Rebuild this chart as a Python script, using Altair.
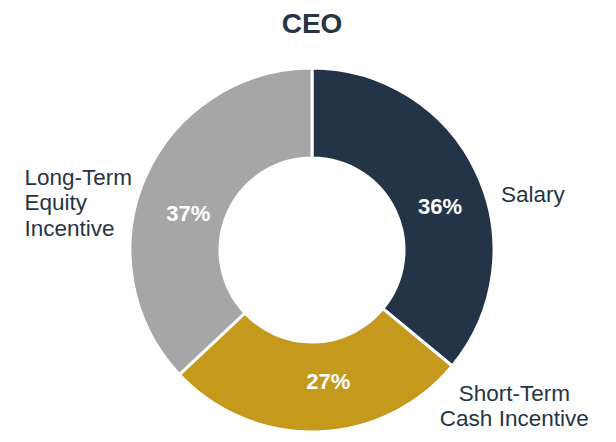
import altair as alt
import pandas as pd

categories = ["Salary", "Short-Term Cash Incentive", "Long-Term Equity Incentive"]
values = [36, 27, 37]
pct_labels = ["36%", "27%", "37%"]
outer_labels = ["Salary", "Short-Term\nCash Incentive", "Long-Term\nEquity\nIncentive"]
colors = ["#243447", "#C4991C", "#A6A6A6"]

df = pd.DataFrame({
    "category": categories,
    "value": values,
    "order": [0, 1, 2],
    "pct": pct_labels,
    "label": outer_labels,
})

FONT = "Liberation Sans"
TEXT_COLOR = "#253546"

base = alt.Chart(df).encode(
    theta=alt.Theta("value:Q", stack=True),
    order=alt.Order("order:Q", sort="ascending"),
)

arc = base.mark_arc(radius=182, innerRadius=92, stroke="white", strokeWidth=3).encode(
    color=alt.Color("category:N", scale=alt.Scale(domain=categories, range=colors), legend=None)
)


def label_layer(cat, field, radius, dx, dy, **kw):
    return base.transform_calculate(
        t=f"datum.category == '{cat}' ? datum.{field} : ''"
    ).mark_text(radius=radius, dx=dx, dy=dy, font=FONT, lineBreak="\n", **kw).encode(
        text="t:N"
    )


pct_kw = dict(fontSize=22, fontWeight="bold", color="white", align="center", baseline="middle")
out_kw = dict(fontSize=22.5, color=TEXT_COLOR, lineHeight=25.5)

layers = [
    arc,
    label_layer("Salary", "pct", 137, 4, 15, **pct_kw),
    label_layer("Short-Term Cash Incentive", "pct", 137, 12, -5, **pct_kw),
    label_layer("Long-Term Equity Incentive", "pct", 137, 2, 18, **pct_kw),
    label_layer("Salary", "label", 200, 8, 30, align="left", baseline="middle", **out_kw),
    label_layer("Short-Term Cash Incentive", "label", 200, 196, -49, align="center", baseline="alphabetic", **out_kw),
    label_layer("Long-Term Equity Incentive", "label", 200, -104, 14, align="left", baseline="alphabetic", **out_kw),
]

chart = alt.layer(*layers).properties(
    width=592,
    height=368,
    autosize=alt.AutoSizeParams(type="none"),
    padding={"left": 8, "top": 58, "right": 0, "bottom": 0},
    title=alt.TitleParams(
        "CEO", fontSize=28, font=FONT, fontWeight="bold", color=TEXT_COLOR,
        anchor="middle", offset=23,
    ),
).configure_view(strokeWidth=0).configure(background="white")

chart.save("out.html", embed_options={"renderer": "svg", "actions": False})
